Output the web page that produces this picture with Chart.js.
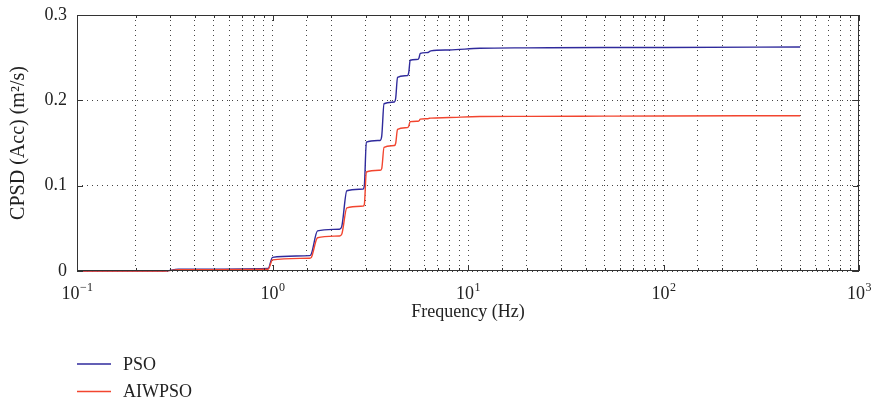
<!DOCTYPE html>
<html>
<head>
<meta charset="utf-8">
<script src="https://cdn.jsdelivr.net/npm/chart.js@4.4.1/dist/chart.umd.min.js"></script>
<style>
  html, body { margin: 0; padding: 0; background: #fff; }
  #wrap { width: 876px; height: 404px; }
</style>
</head>
<body>
<div id="wrap"><canvas id="cpsdChart" width="876" height="404"></canvas></div>
<script>
// frequency points (Hz) at step starts/ends
const freqs = [0.1, 0.28, 0.33, 0.95, 1.0, 1.55, 1.58, 1.70, 2.2, 2.26, 2.40, 2.9, 2.95, 3.02,
    3.55, 3.62, 3.72, 4.2, 4.27, 4.36, 4.9, 4.98, 5.06, 5.55, 5.62, 5.7, 6.25, 6.34, 6.45,
    8, 11.5, 20, 50, 100, 500];

const psoValues = [0, 0, 0.002, 0.003, 0.016, 0.018, 0.020, 0.047, 0.049, 0.052, 0.094, 0.096, 0.100, 0.151,
    0.153, 0.158, 0.196, 0.198, 0.203, 0.227, 0.229, 0.233, 0.247, 0.248, 0.250, 0.255, 0.256, 0.257, 0.258,
    0.259, 0.261, 0.2615, 0.262, 0.262, 0.2625];

const aiwpsoValues = [0, 0, 0.0015, 0.002, 0.013, 0.015, 0.016, 0.039, 0.041, 0.043, 0.074, 0.076, 0.078, 0.116,
    0.118, 0.120, 0.145, 0.147, 0.150, 0.166, 0.168, 0.170, 0.175, 0.1755, 0.176, 0.178, 0.1785, 0.179, 0.1792,
    0.1798, 0.181, 0.1812, 0.1815, 0.1817, 0.182];

const seriesNames = ['PSO', 'AIWPSO'];
const seriesColors = ['#2f2a9c', '#f2452f'];
const yTicks = [0, 0.1, 0.2, 0.3];

function decadeExp(v) {
    const e = Math.round(Math.log10(v));
    return Math.abs(Math.log10(v) - e) < 1e-9 ? e : null;
}

const fontFam = '"Liberation Serif", "DejaVu Serif", serif';
const axisColor = '#333';
const textColor = '#222';

// box, inward tick marks, 10^n labels and the legend
const boxPlugin = {
    id: 'boxTicks',
    afterDraw(chart) {
        const { ctx, chartArea: a, scales } = chart;
        ctx.save();
        ctx.strokeStyle = axisColor;
        ctx.lineWidth = 1;
        ctx.setLineDash([]);
        ctx.strokeRect(a.left + 0.5, a.top + 0.5, a.right - a.left - 1, a.bottom - a.top - 1);
        ctx.beginPath();
        scales.x.ticks.forEach(t => {
            const px = Math.round(scales.x.getPixelForValue(t.value)) + 0.5;
            const len = decadeExp(t.value) !== null ? 6 : 3;
            ctx.moveTo(px, a.bottom); ctx.lineTo(px, a.bottom - len);
            ctx.moveTo(px, a.top); ctx.lineTo(px, a.top + len);
        });
        scales.y.ticks.forEach(t => {
            const py = Math.round(scales.y.getPixelForValue(t.value)) + 0.5;
            ctx.moveTo(a.left, py); ctx.lineTo(a.left + 6, py);
            ctx.moveTo(a.right, py); ctx.lineTo(a.right - 6, py);
        });
        ctx.stroke();

        // x tick labels with real superscripts
        ctx.fillStyle = textColor;
        ctx.textBaseline = 'alphabetic';
        ctx.textAlign = 'left';
        scales.x.ticks.forEach(t => {
            const e = decadeExp(t.value);
            if (e === null) return;
            const px = scales.x.getPixelForValue(t.value);
            const exp = String(e).replace('-', '\u2212');
            ctx.font = '18px ' + fontFam;
            const wBase = ctx.measureText('10').width;
            ctx.font = '12px ' + fontFam;
            const wExp = ctx.measureText(exp).width;
            const x0 = px - (wBase + wExp) / 2;
            ctx.font = '18px ' + fontFam;
            ctx.fillText('10', x0, a.bottom + 28);
            ctx.font = '12px ' + fontFam;
            ctx.fillText(exp, x0 + wBase + 0.5, a.bottom + 20);
        });

        // legend below the plot
        ctx.font = '18px ' + fontFam;
        ctx.textBaseline = 'middle';
        chart.data.datasets.forEach((ds, i) => {
            const y = 364 + i * 27.5;
            ctx.strokeStyle = ds.borderColor;
            ctx.lineWidth = 1.5;
            ctx.beginPath();
            ctx.moveTo(77, y); ctx.lineTo(111, y);
            ctx.stroke();
            ctx.fillText(ds.label, 123, y + 1);
        });
        ctx.restore();
    }
};

const datasets = [psoValues, aiwpsoValues].map((vals, i) => ({
    label: seriesNames[i],
    data: freqs.map((f, j) => ({ x: f, y: vals[j] })),
    borderColor: seriesColors[i],
    borderWidth: 1.4,
    pointRadius: 0,
    fill: false,
    clip: 3,
    order: 2 - i,
    cubicInterpolationMode: 'monotone'
}));

new Chart(document.getElementById('cpsdChart'), {
    type: 'line',
    data: { datasets: datasets },
    options: {
        responsive: false,
        animation: false,
        layout: { padding: { top: 15, right: 17, bottom: 79, left: 0 } },
        plugins: { legend: { display: false }, tooltip: { enabled: false } },
        scales: {
            x: {
                type: 'logarithmic',
                min: 0.1,
                max: 1000,
                grid: { color: '#444', drawTicks: false, lineWidth: 1 },
                border: { display: false, dash: [1, 4] },
                ticks: {
                    autoSkip: false, maxRotation: 0, padding: 8,
                    color: textColor, font: { family: fontFam, size: 18 },
                    callback: () => ''
                },
                title: {
                    display: true, text: 'Frequency (Hz)', color: textColor,
                    font: { family: fontFam, size: 18 }, padding: { top: 0, bottom: 2 }
                },
                afterFit: s => { s.height = 54; s.paddingLeft = 0; s.paddingRight = 0; }
            },
            y: {
                min: 0,
                max: 0.3,
                afterBuildTicks: s => { s.ticks = yTicks.map(v => ({ value: v })); },
                grid: { color: '#444', drawTicks: false, lineWidth: 1 },
                border: { display: false, dash: [1, 4] },
                ticks: {
                    padding: 10, color: textColor, font: { family: fontFam, size: 18 },
                    callback: v => String(v)
                },
                title: {
                    display: true, text: 'CPSD (Acc) (m\u00B2/s)', color: textColor,
                    font: { family: fontFam, size: 20 }, padding: { top: 7, bottom: 0 }
                },
                afterFit: s => { s.width = 77; s.paddingTop = 0; s.paddingBottom = 0; }
            }
        }
    },
    plugins: [boxPlugin]
});
</script>
</body>
</html>
